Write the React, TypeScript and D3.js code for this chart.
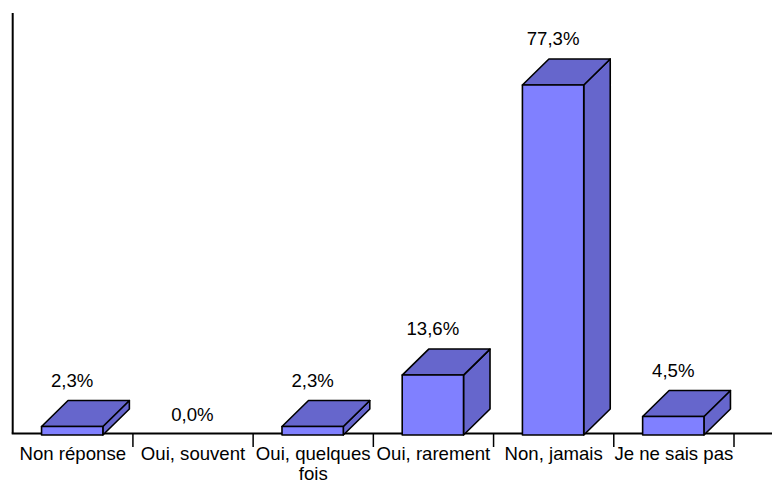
import React from "react";
import * as d3 from "d3";

const categories: string[] = [
  "Non réponse",
  "Oui, souvent",
  "Oui, quelques fois",
  "Oui, rarement",
  "Non, jamais",
  "Je ne sais pas",
];
const values: number[] = [2.3, 0.0, 2.3, 13.6, 77.3, 4.5];
const valueLabels: string[] = ["2,3%", "0,0%", "2,3%", "13,6%", "77,3%", "4,5%"];

const W = 772;
const H = 481;
const FONT = "'Liberation Sans', Arial, sans-serif";
const FS = 18.6;
const FRONT = "#8080FF";
const SIDE = "#6666CC";

const X0 = 12.7;
const X1 = 734;
const AXIS_Y = 433.5;
const BAR_BOTTOM = 435;
const DX = 26.5;
const DY = 26;

function wrap(text: string, maxW: number): string[] {
  const canvas = document.createElement("canvas");
  const ctx = canvas.getContext("2d")!;
  ctx.font = `${FS}px ${FONT}`;
  const words = text.split(" ");
  const lines: string[] = [];
  let cur = "";
  for (const w of words) {
    const t = cur ? cur + " " + w : w;
    if (ctx.measureText(t).width > maxW && cur) {
      lines.push(cur);
      cur = w;
    } else cur = t;
  }
  if (cur) lines.push(cur);
  return lines;
}

export default function App() {
  const x = d3.scaleBand<string>().domain(categories).range([X0, X1]).padding(0);
  const bw = x.bandwidth();
  const y = d3.scaleLinear().domain([0, 93.1]).range([437, 13]);
  const barOff = bw * 0.24;
  const barW = bw * 0.51;

  return (
    <svg
      width={W}
      height={H}
      style={{ position: "absolute", left: 0, top: 0, background: "#fff" }}
      fontFamily={FONT}
      fontSize={FS}
    >
      {/* axes */}
      <line x1={X0} x2={X0} y1={13} y2={AXIS_Y} stroke="#000" strokeWidth={2} />
      <line x1={X0 - 1} x2={W} y1={AXIS_Y} y2={AXIS_Y} stroke="#000" strokeWidth={2} />
      {categories.slice(1).concat([""]).map((c, i) => {
        const tx = X0 + bw * (i + 1);
        return <line key={"t" + i} x1={tx} x2={tx} y1={AXIS_Y} y2={447} stroke="#000" strokeWidth={1.5} />;
      })}
      {/* bars */}
      {categories.map((c, i) => {
        const v = values[i];
        const xl = (x(c) as number) + barOff;
        const xr = xl + barW;
        const top = y(v);
        const cx = xl + barW / 2;
        const labelY = v > 0 ? top - DY - 14 : y(v) - 16.3;
        return (
          <g key={c}>
            {v > 0 && (
              <g stroke="#000" strokeWidth={1.6} strokeLinejoin="round">
                <path
                  d={`M${xr},${top}L${xr + DX},${top - DY}L${xr + DX},${BAR_BOTTOM - DY}L${xr},${BAR_BOTTOM}Z`}
                  fill={SIDE}
                />
                <path
                  d={`M${xl},${top}L${xl + DX},${top - DY}L${xr + DX},${top - DY}L${xr},${top}Z`}
                  fill={SIDE}
                />
                <rect x={xl} y={top} width={barW} height={BAR_BOTTOM - top} fill={FRONT} />
              </g>
            )}
            <text x={cx} y={labelY} textAnchor="middle" fill="#000">
              {valueLabels[i]}
            </text>
          </g>
        );
      })}
      {/* category labels */}
      {categories.map((c) => {
        const lines = wrap(c, bw);
        const cx = (x(c) as number) + bw / 2;
        return (
          <text key={"l" + c} x={cx} y={460} textAnchor="middle" fill="#000">
            {lines.map((l, j) => (
              <tspan key={j} x={cx} dy={j === 0 ? 0 : 20}>
                {l}
              </tspan>
            ))}
          </text>
        );
      })}
    </svg>
  );
}
